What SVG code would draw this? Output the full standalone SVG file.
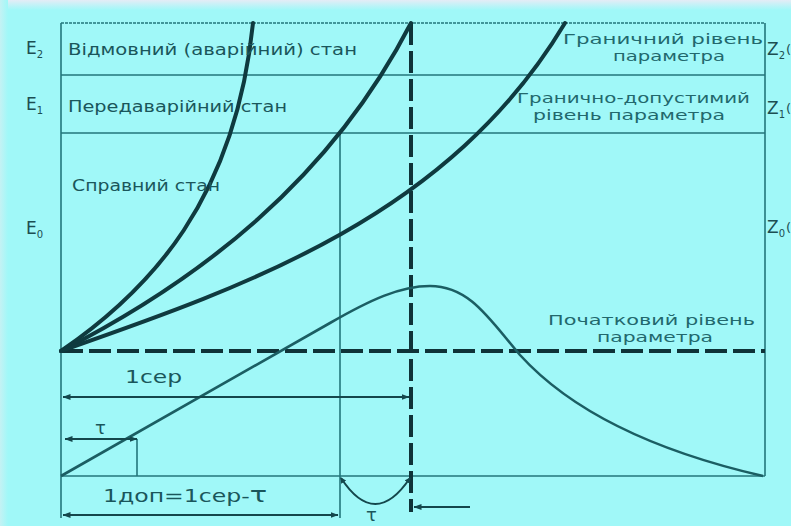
<svg xmlns="http://www.w3.org/2000/svg" width="791" height="526" viewBox="0 0 791 526">
<defs>
<linearGradient id="topfade" x1="0" y1="0" x2="0" y2="1">
<stop offset="0" stop-color="#e4ecf6"/>
<stop offset="1" stop-color="#a0f8f8"/>
</linearGradient>
<linearGradient id="leftfade" x1="0" y1="0" x2="1" y2="0">
<stop offset="0" stop-color="#c4f2f4"/>
<stop offset="1" stop-color="#a0f8f8"/>
</linearGradient>
<marker id="ah" viewBox="0 0 8 6" markerWidth="8" markerHeight="6" refX="7.5" refY="3" orient="auto-start-reverse" markerUnits="userSpaceOnUse">
<path d="M0,0 L8,3 L0,6 z" fill="#14474c"/>
</marker>
<marker id="ahs" viewBox="0 0 6 6" markerWidth="6" markerHeight="6" refX="5" refY="3" orient="auto-start-reverse" markerUnits="userSpaceOnUse">
<path d="M0,0 L6,3 L0,6 z" fill="#14474c"/>
</marker>
</defs>
<style>
.thin{fill:none;stroke:#23767b;stroke-width:1.6}
.thick{fill:none;stroke:#0f3a3f;stroke-width:4;stroke-linecap:round}
.dash{fill:none;stroke:#0f3338;stroke-width:4;stroke-dasharray:22 6}
.resp{fill:none;stroke:#1b5e63;stroke-width:2.6}
.dim{fill:none;stroke:#14474c;stroke-width:2}
.lbl{font-family:"DejaVu Sans","Noto Sans",sans-serif;font-size:15px;fill:#1a565b}
.rlbl{font-family:"DejaVu Sans","Noto Sans",sans-serif;font-size:13.5px;fill:#22686d}
.ax{font-family:"DejaVu Sans","Noto Sans",sans-serif;font-size:17px;fill:#1c4e52}
.par{font-family:"DejaVu Sans","Noto Sans",sans-serif;font-size:13px;fill:#1c4e52}
.sub{font-size:10px}
.big{font-family:"DejaVu Sans","Noto Sans",sans-serif;font-size:18px;fill:#1a565b}
</style>
<rect x="0" y="0" width="791" height="526" fill="#a0f8f8"/>
<rect x="0" y="0" width="791" height="10" fill="url(#topfade)"/>
<rect x="0" y="0" width="8" height="526" fill="url(#leftfade)"/>

<g id="frame">
<line class="thin" x1="61" y1="23" x2="765" y2="23" stroke-dasharray="3 1"/>
<line class="thin" x1="61" y1="75" x2="765" y2="75"/>
<line class="thin" x1="61" y1="133" x2="765" y2="133"/>
<line class="thin" x1="61" y1="476" x2="765" y2="476"/>
<line class="thin" x1="61" y1="23" x2="61" y2="518"/>
<line class="thin" x1="765" y1="23" x2="765" y2="476"/>
<line class="thin" x1="340" y1="133" x2="340" y2="518"/>
<line class="thin" x1="137" y1="439" x2="137" y2="476"/>
</g>

<g id="levels">
<line class="dash" x1="61" y1="351" x2="765" y2="351"/>
<line class="dash" x1="411" y1="23" x2="411" y2="512"/>
</g>

<g id="curves">
<path class="thick" d="M61,351 C150,290 235,200 253,23"/>
<path class="thick" d="M61,351 C200,280 330,180 411,23"/>
<path class="thick" d="M61,351 C250,285 450,215 565,23"/>
<path class="resp" d="M61,476 L330,323 C370,300 400,286 430,286 C470,286 490,320 520,355 C570,410 650,450 763,476"/>
</g>

<g id="connectors">
<line class="dim" x1="63" y1="397" x2="409" y2="397" marker-start="url(#ah)" marker-end="url(#ah)"/>
<line class="dim" x1="65" y1="439" x2="137" y2="439" marker-start="url(#ah)" marker-end="url(#ah)"/>
<line class="dim" x1="63" y1="515" x2="338" y2="515" marker-start="url(#ah)" marker-end="url(#ah)"/>
<path class="dim" d="M341,478 Q375,530 410,478" marker-start="url(#ahs)" marker-end="url(#ahs)"/>
<line class="dim" x1="470" y1="507" x2="414" y2="507" marker-end="url(#ah)"/>
</g>

<g id="state-labels">
<text class="ax" x="26" y="54">E<tspan class="sub" dy="4">2</tspan></text>
<text class="ax" x="26" y="110">E<tspan class="sub" dy="4">1</tspan></text>
<text class="ax" x="26" y="234">E<tspan class="sub" dy="4">0</tspan></text>
<text class="lbl" x="68" y="55" textLength="289" lengthAdjust="spacingAndGlyphs">Відмовний (аварійний) стан</text>
<text class="lbl" x="68" y="112" textLength="219" lengthAdjust="spacingAndGlyphs">Передаварійний стан</text>
<text class="lbl" x="72" y="191" textLength="148" lengthAdjust="spacingAndGlyphs">Справний стан</text>
</g>

<g id="level-labels">
<text class="rlbl" x="563" y="44" textLength="200" lengthAdjust="spacingAndGlyphs">Граничний рівень</text>
<text class="rlbl" x="613" y="61" textLength="112" lengthAdjust="spacingAndGlyphs">параметра</text>
<text class="rlbl" x="517" y="103" textLength="233" lengthAdjust="spacingAndGlyphs">Гранично-допустимий</text>
<text class="rlbl" x="533" y="120" textLength="192" lengthAdjust="spacingAndGlyphs">рівень параметра</text>
<text class="rlbl" x="548" y="325" textLength="207" lengthAdjust="spacingAndGlyphs">Початковий рівень</text>
<text class="rlbl" x="597" y="342" textLength="116" lengthAdjust="spacingAndGlyphs">параметра</text>
<text class="ax" x="767" y="55">Z<tspan class="sub" dy="4">2</tspan></text>
<text class="ax" x="767" y="114">Z<tspan class="sub" dy="4">1</tspan></text>
<text class="ax" x="767" y="233">Z<tspan class="sub" dy="4">0</tspan></text>
<text class="par" x="786" y="54">(</text>
<text class="par" x="786" y="113">(</text>
<text class="par" x="786" y="232">(</text>
</g>

<g id="time-labels">
<text class="big" x="125" y="383" textLength="57" lengthAdjust="spacingAndGlyphs">1сер</text>
<text class="big" x="95" y="434" font-size="22">τ</text>
<text class="big" x="103" y="502" textLength="164" lengthAdjust="spacingAndGlyphs">1доп=1сер-<tspan font-size="22">τ</tspan></text>
<text class="big" x="366" y="521" font-size="20">τ</text>
</g>
</svg>
